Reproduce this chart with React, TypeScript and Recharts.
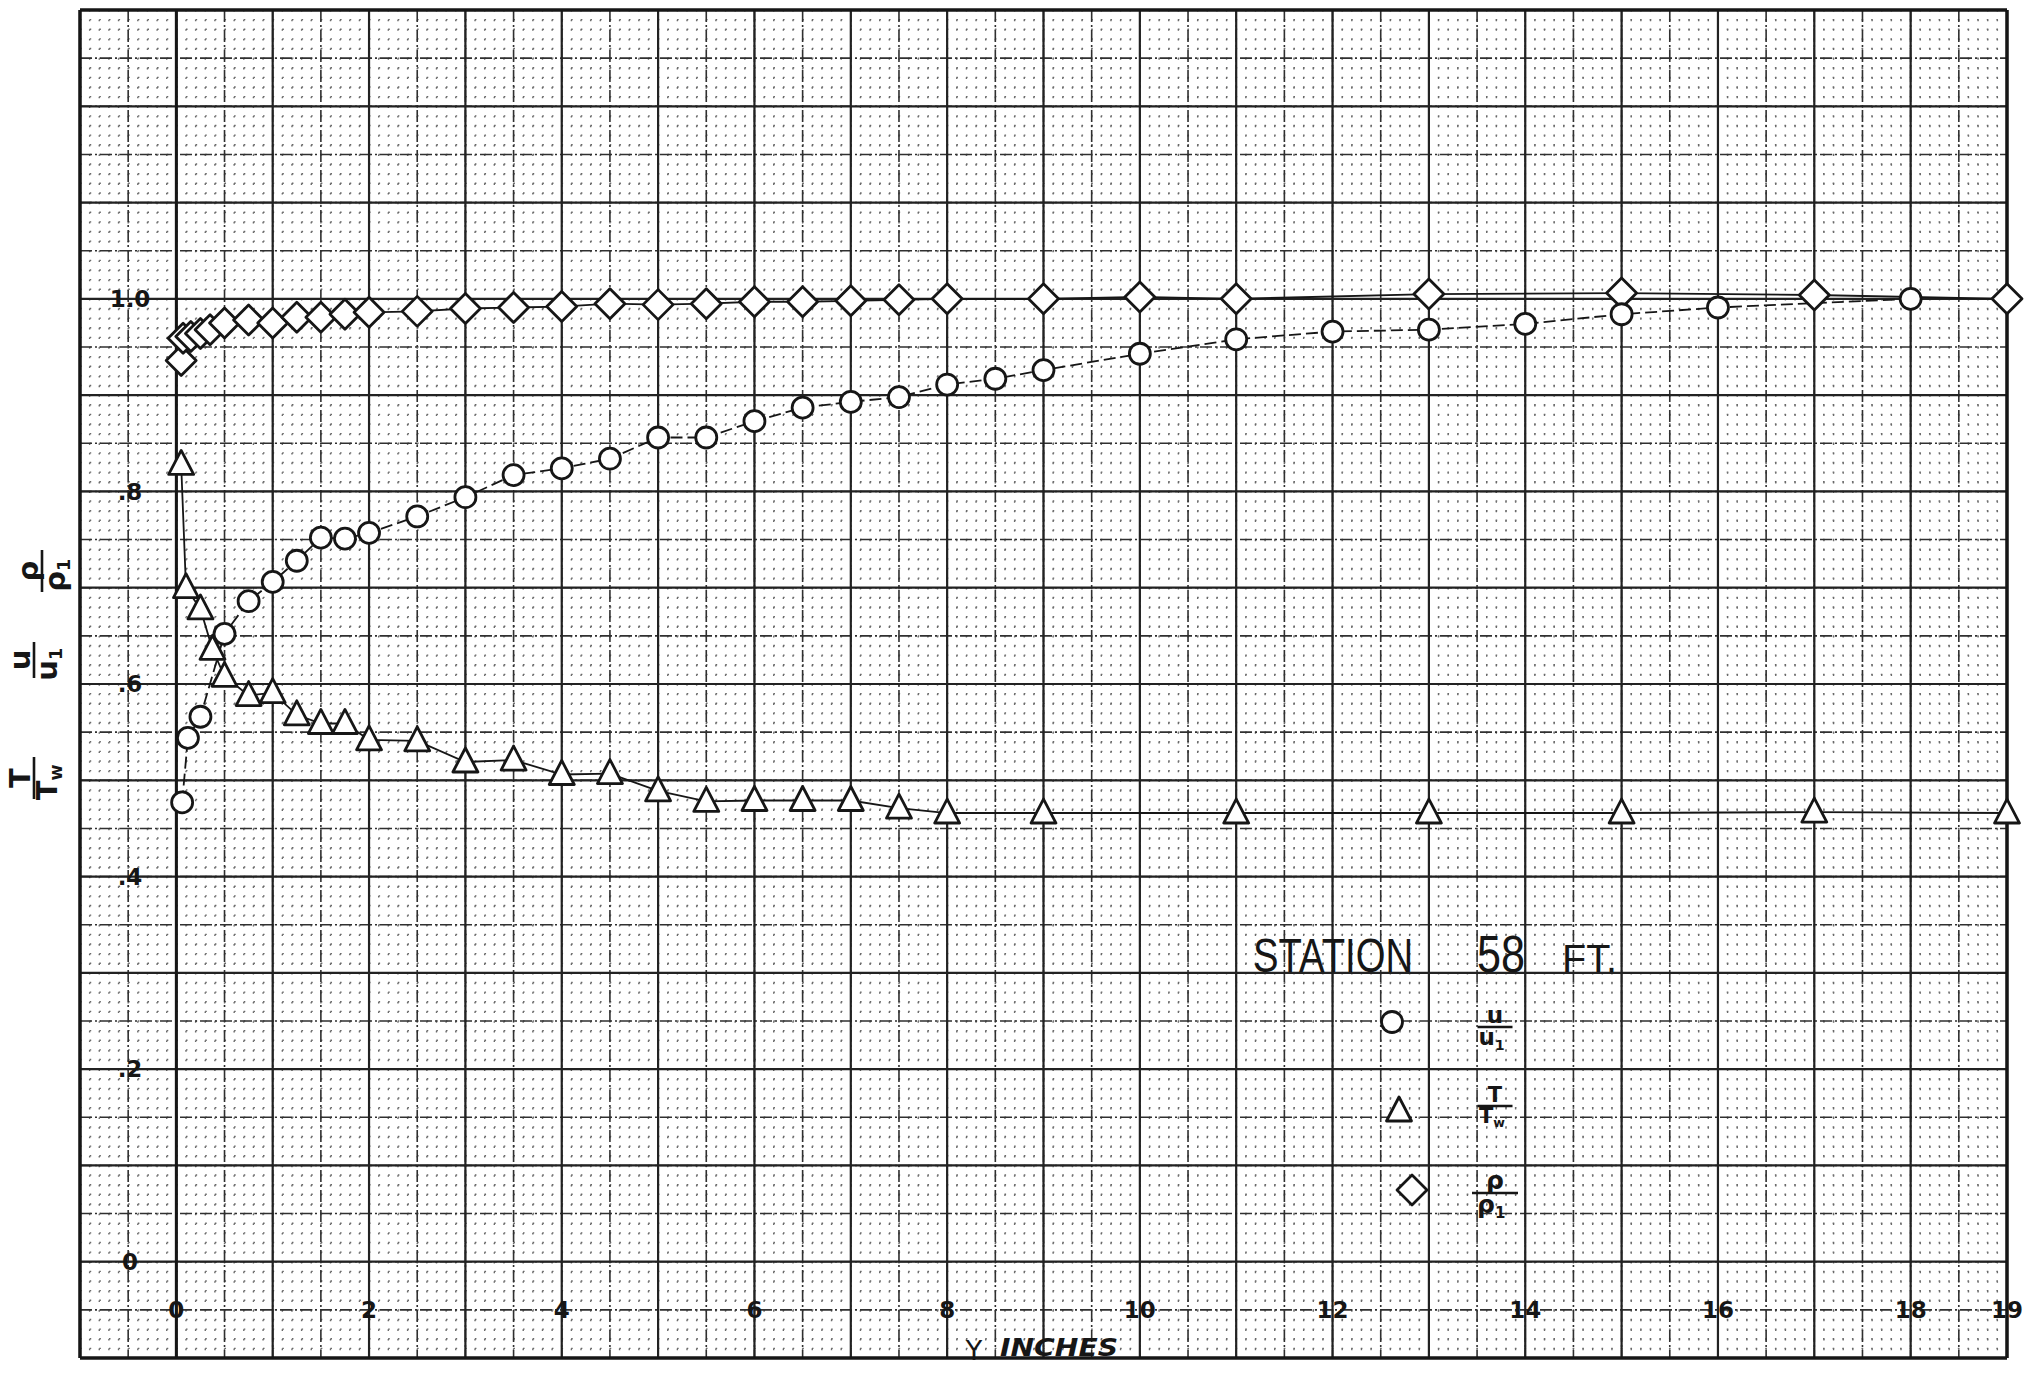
import React from "react";
import { LineChart, Line, XAxis, YAxis, CartesianGrid, ReferenceLine, Legend } from "recharts";

/* ─── readings off the sheet: distance Y (inches) vs. ratio ─── */
const U_Y = [0.06, 0.12, 0.25, 0.5, 0.75, 1, 1.25, 1.5, 1.75, 2, 2.5, 3, 3.5, 4, 4.5, 5, 5.5, 6, 6.5, 7, 7.5, 8, 8.5, 9, 10, 11, 12, 13, 14, 15, 16, 18];
const U_RATIO = [0.477, 0.544, 0.566, 0.652, 0.686, 0.706, 0.728, 0.752, 0.751, 0.757, 0.774, 0.794, 0.817, 0.824, 0.834, 0.856, 0.856, 0.873, 0.887, 0.893, 0.898, 0.911, 0.917, 0.926, 0.943, 0.958, 0.966, 0.968, 0.974, 0.984, 0.991, 1.0];

const T_Y = [0.05, 0.1, 0.25, 0.375, 0.5, 0.75, 1, 1.25, 1.5, 1.75, 2, 2.5, 3, 3.5, 4, 4.5, 5, 5.5, 6, 6.5, 7, 7.5, 8, 9, 11, 13, 15, 17, 19];
const T_RATIO = [0.828, 0.7, 0.678, 0.636, 0.608, 0.588, 0.591, 0.568, 0.559, 0.559, 0.542, 0.541, 0.519, 0.521, 0.506, 0.507, 0.489, 0.478, 0.479, 0.479, 0.479, 0.471, 0.466, 0.466, 0.466, 0.466, 0.466, 0.467, 0.466];

const RHO_Y = [0.05, 0.07, 0.15, 0.25, 0.35, 0.5, 0.75, 1, 1.25, 1.5, 1.75, 2, 2.5, 3, 3.5, 4, 4.5, 5, 5.5, 6, 6.5, 7, 7.5, 8, 9, 10, 11, 13, 15, 17, 19];
const RHO_RATIO = [0.936, 0.959, 0.961, 0.964, 0.968, 0.975, 0.978, 0.975, 0.981, 0.981, 0.984, 0.986, 0.987, 0.99, 0.991, 0.992, 0.995, 0.994, 0.995, 0.997, 0.997, 0.998, 0.999, 1.0, 1.0, 1.002, 1.0, 1.005, 1.006, 1.004, 1.0];

const X_TICKS = [0, 2, 4, 6, 8, 10, 12, 14, 16, 18, 19];
const Y_TICKS = [0, 0.2, 0.4, 0.6, 0.8, 1.0];
const Y_TICK_LABELS = ["0", ".2", ".4", ".6", ".8", "1.0"];

const X_DOMAIN: [number, number] = [-1, 19];
const Y_DOMAIN: [number, number] = [-0.1, 1.3];

const W = 2024;
const H = 1374;
const INK = "#161616";

/* graph-paper rulings */
function steps(lo: number, hi: number, step: number) {
  const n = Math.round((hi - lo) / step);
  return Array.from({ length: n + 1 }, (_, i) => Math.round((lo + i * step) * 1000) / 1000);
}
const X_MINOR = steps(-1, 19, 0.1);
const X_HALF = steps(-1, 19, 0.5);
const X_MAJOR = steps(-1, 19, 1);
const Y_MINOR = steps(-0.1, 1.3, 0.01);
const Y_HALF = steps(-0.1, 1.3, 0.05);
const Y_MAJOR = steps(-0.1, 1.3, 0.1);

const toPoints = (xs: number[], vs: number[]) => xs.map((x, i) => ({ x, v: vs[i] }));
const U_DATA = toPoints(U_Y, U_RATIO);
const T_DATA = toPoints(T_Y, T_RATIO);
const RHO_DATA = toPoints(RHO_Y, RHO_RATIO);

/* ─── markers ─── */
function CircleMark({ cx, cy }: { cx: number; cy: number }) {
  return <circle cx={cx} cy={cy} r={10.5} fill="#fff" stroke={INK} strokeWidth={2.8} />;
}
function TriangleMark({ cx, cy }: { cx: number; cy: number }) {
  return (
    <polygon points={`${cx},${cy - 14} ${cx + 12.5},${cy + 10} ${cx - 12.5},${cy + 10}`}
      fill="#fff" stroke={INK} strokeWidth={2.8} strokeLinejoin="round" />
  );
}
function DiamondMark({ cx, cy }: { cx: number; cy: number }) {
  return (
    <polygon points={`${cx},${cy - 15} ${cx + 15},${cy} ${cx},${cy + 15} ${cx - 15},${cy}`}
      fill="#fff" stroke={INK} strokeWidth={2.8} strokeLinejoin="round" />
  );
}

function Fraction({ x, y, num, den, sub, size, bar, rotate = 0, weight = 400 }: {
  x: number; y: number; num: string; den: string; sub?: string; size: number; bar: number; rotate?: number; weight?: number;
}) {
  return (
    <g transform={`translate(${x},${y}) rotate(${rotate})`} fill={INK} fontFamily="DejaVu Sans, sans-serif"
      fontSize={size} fontWeight={weight} textAnchor="middle">
      <text x={0} y={-4}>{num}</text>
      <line x1={-bar / 2} x2={bar / 2} y1={0} y2={0} stroke={INK} strokeWidth={2.6} />
      <text x={sub ? -size * 0.15 : 0} y={size * 0.8}>
        {den}
        {sub && <tspan fontSize={size * 0.6} dy={size * 0.18}>{sub}</tspan>}
      </text>
    </g>
  );
}

function LegendBox() {
  return (
    <svg width={420} height={340}>
      <g fontFamily="Liberation Sans, Arial, sans-serif" fill={INK}>
        <text x={13} y={72} fontSize={48} textLength={160} lengthAdjust="spacingAndGlyphs">STATION</text>
        <text x={237} y={72} fontSize={52} textLength={48} lengthAdjust="spacingAndGlyphs">58</text>
        <text x={322} y={72} fontSize={38} textLength={55} lengthAdjust="spacingAndGlyphs">FT.</text>
      </g>
      <CircleMark cx={152} cy={122} />
      <Fraction x={255} y={127} num="u" den="u" sub="1" size={23} bar={35} weight={700} />
      <TriangleMark cx={159} cy={211} />
      <Fraction x={255} y={206} num="T" den="T" sub="w" size={21} bar={35} weight={700} />
      <DiamondMark cx={172} cy={290} />
      <Fraction x={255} y={293} num="ρ" den="ρ" sub="1" size={25} bar={46} weight={700} />
    </svg>
  );
}

function SheetLabels() {
  return (
    <svg width={W} height={H} style={{ position: "absolute", left: 0, top: 0, pointerEvents: "none" }}>
      <Fraction x={42} y={571} num="ρ" den="ρ" sub="1" size={29} bar={42} rotate={-90} weight={700} />
      <Fraction x={34} y={660} num="u" den="u" sub="1" size={29} bar={36} rotate={-90} weight={700} />
      <Fraction x={34} y={778} num="T" den="T" sub="w" size={29} bar={42} rotate={-90} weight={700} />
      <g fill={INK} fontFamily="DejaVu Sans, sans-serif">
        <text x={974} y={1360} fontSize={27} textAnchor="middle">Y</text>
        <text x={1000} y={1356} fontSize={24} fontWeight={700} fontStyle="italic"
          textLength={118} lengthAdjust="spacingAndGlyphs">INCHES</text>
      </g>
    </svg>
  );
}

export default function App() {
  return (
    <div style={{ position: "relative", width: W, height: H, background: "#fff" }}>
      <style>{"body{margin:0;background:#fff}"}</style>
      <LineChart width={W} height={H} margin={{ top: 10, right: 17, bottom: 15, left: 79 }}>
        <XAxis xAxisId="x" type="number" dataKey="x" domain={X_DOMAIN} ticks={X_TICKS} interval={0}
          height={1} tickSize={0} tickMargin={0} axisLine={false} tickLine={false}
          tick={(p: any) => (
            <text x={p.x} y={p.y - 48} dy="0.36em" textAnchor="middle" fontFamily="DejaVu Sans, sans-serif"
              fontWeight={700} fontSize={23} fill={INK}>{p.payload.value}</text>
          )} />
        <YAxis yAxisId="y" type="number" domain={Y_DOMAIN} ticks={Y_TICKS} interval={0}
          width={1} tickSize={0} tickMargin={0} axisLine={false} tickLine={false}
          tick={(p: any) => (
            <text x={p.x + 50} y={p.y} dy="0.36em" textAnchor="middle" fontFamily="DejaVu Sans, sans-serif"
              fontWeight={700} fontSize={23} fill={INK}>
              {Y_TICK_LABELS[Y_TICKS.indexOf(p.payload.value)]}
            </text>
          )} />

        {/* graph paper: dotted tenths, dash-dot halves, solid wholes */}
        <CartesianGrid xAxisId="x" yAxisId="y" verticalValues={X_MINOR} horizontalValues={Y_MINOR}
          stroke="#6a6a6a" strokeWidth={1.4} strokeDasharray="1.6 8.03" />
        <CartesianGrid xAxisId="x" yAxisId="y" verticalValues={X_HALF} horizontalValues={Y_HALF}
          stroke="#303030" strokeWidth={1.6} strokeDasharray="12 3 2 3" />
        <CartesianGrid xAxisId="x" yAxisId="y" verticalValues={X_MAJOR} horizontalValues={Y_MAJOR}
          stroke="#222" strokeWidth={2.2} />

        <ReferenceLine xAxisId="x" yAxisId="y" x={0} stroke={INK} strokeWidth={3} />
        <ReferenceLine xAxisId="x" yAxisId="y" x={-1} stroke={INK} strokeWidth={3.5} />
        <ReferenceLine xAxisId="x" yAxisId="y" x={19} stroke={INK} strokeWidth={3.5} />
        <ReferenceLine xAxisId="x" yAxisId="y" y={-0.1} stroke={INK} strokeWidth={3.5} />
        <ReferenceLine xAxisId="x" yAxisId="y" y={1.3} stroke={INK} strokeWidth={3.5} />

        <Line xAxisId="x" yAxisId="y" data={RHO_DATA} dataKey="v" name="ρ/ρ1" type="linear" stroke={INK}
          strokeWidth={1.8} isAnimationActive={false} activeDot={false}
          dot={(p: any) => <DiamondMark key={`r${p.index}`} cx={p.cx} cy={p.cy} />} />
        <Line xAxisId="x" yAxisId="y" data={T_DATA} dataKey="v" name="T/Tw" type="linear" stroke={INK}
          strokeWidth={1.8} isAnimationActive={false} activeDot={false}
          dot={(p: any) => <TriangleMark key={`t${p.index}`} cx={p.cx} cy={p.cy} />} />
        <Line xAxisId="x" yAxisId="y" data={U_DATA} dataKey="v" name="u/u1" type="linear" stroke={INK}
          strokeWidth={1.8} strokeDasharray="12 5" isAnimationActive={false} activeDot={false}
          dot={(p: any) => <CircleMark key={`u${p.index}`} cx={p.cx} cy={p.cy} />} />

        <Legend layout="horizontal" verticalAlign="middle" align="center"
          wrapperStyle={{ left: 1240, top: 900, width: 420, height: 340 }}
          content={() => <LegendBox />} />
      </LineChart>
      <SheetLabels />
    </div>
  );
}
